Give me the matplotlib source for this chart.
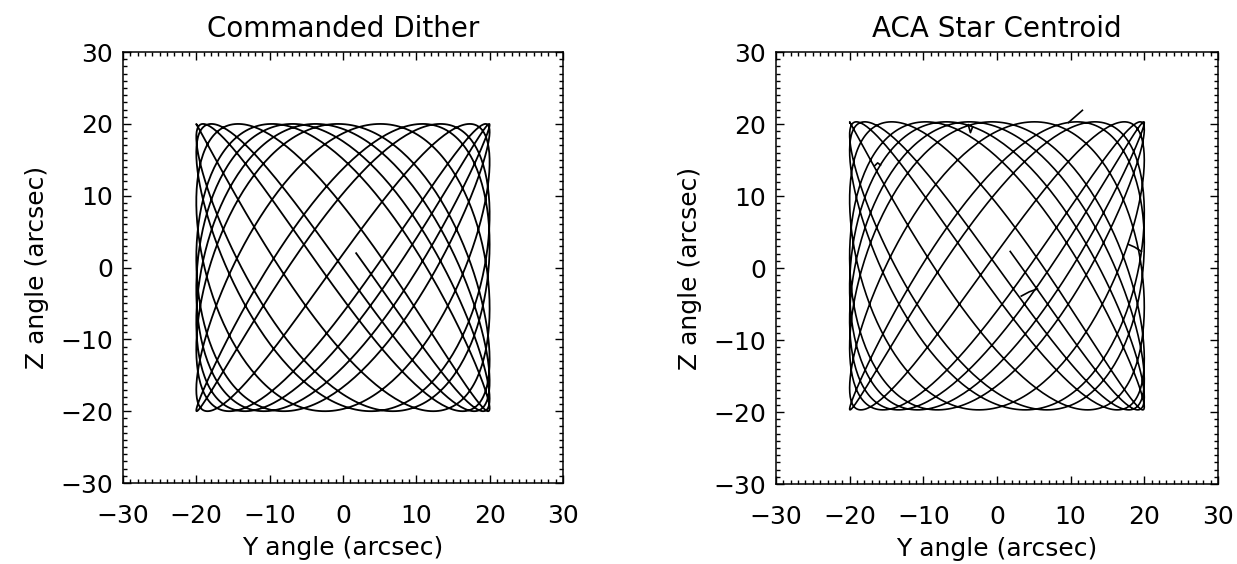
import numpy as np
import matplotlib.pyplot as plt
from matplotlib.ticker import MultipleLocator

# commanded dither (HRC pattern), arcsec and seconds
amp_y = 20.0
amp_z = 20.0
period_y = 1087.0
period_z = 768.6
start_y = 1.8      # free end of the track near the centre
start_z = 2.0
duration = 10600.0
step = 4.0

# ACA centroid: small shift of the whole track and a few glitches
centroid_shift_y = 0.0
centroid_shift_z = 0.3
glitch_1_y = [9.7, 10.6, 11.6]
glitch_1_z = [20.2, 21.0, 21.9]
glitch_2_y = [3.3, 4.4, 5.5]
glitch_2_z = [-3.9, -3.3, -2.9]
glitch_3_y = [17.8, 18.7, 19.6]
glitch_3_z = [3.3, 2.9, 2.3]
glitch_4_y = [-3.9, -3.6, -3.3]
glitch_4_z = [19.9, 18.8, 19.6]
glitch_5_y = [-16.6, -16.2, -15.8]
glitch_5_z = [14.2, 14.6, 14.3]

ticks = [-30, -20, -10, 0, 10, 20, 30]

# build the track from the dither definition
t = np.arange(0, duration, step)
phase_y = np.arcsin(start_y / amp_y)
phase_z = np.pi - np.arcsin(start_z / amp_z)
dither_y = amp_y * np.sin(2 * np.pi * t / period_y + phase_y)
dither_z = amp_z * np.sin(2 * np.pi * t / period_z + phase_z)

fig = plt.figure(figsize=(12.37, 5.64), dpi=100)
ax1 = fig.add_axes([0.0994, 0.1436, 0.3557, 0.764])
ax2 = fig.add_axes([0.6273, 0.1418, 0.3573, 0.766])

ax1.plot(dither_y, dither_z, color="black", lw=1.3)
ax1.set_title("Commanded Dither", fontsize=20, pad=11)

ax2.plot(dither_y + centroid_shift_y, dither_z + centroid_shift_z, color="black", lw=1.2)
for gy, gz in [(glitch_1_y, glitch_1_z), (glitch_2_y, glitch_2_z),
               (glitch_3_y, glitch_3_z), (glitch_4_y, glitch_4_z),
               (glitch_5_y, glitch_5_z)]:
    ax2.plot(gy, gz, color="black", lw=1.2)
ax2.set_title("ACA Star Centroid", fontsize=20, pad=11)

for ax in (ax1, ax2):
    ax.set_xlim(-30, 30)
    ax.set_ylim(-30, 30)
    ax.set_xticks(ticks)
    ax.set_yticks(ticks)
    ax.set_xticklabels([str(v).replace("-", "\u2212") for v in ticks])
    ax.set_yticklabels([str(v).replace("-", "\u2212") for v in ticks])
    ax.xaxis.set_minor_locator(MultipleLocator(1))
    ax.yaxis.set_minor_locator(MultipleLocator(1))
    ax.tick_params(which="both", direction="in", top=True, right=True, width=1.0)
    ax.tick_params(which="major", length=6, labelsize=18)
    ax.tick_params(axis="x", which="major", pad=15)
    ax.tick_params(axis="y", which="major", pad=7)
    ax.tick_params(which="minor", length=3)
    for s in ax.spines.values():
        s.set_linewidth(1.1)
    ax.set_xlabel("Y angle (arcsec)", fontsize=18, labelpad=6)
    ax.set_ylabel("Z angle (arcsec)", fontsize=18, labelpad=8)

plt.savefig("out.png", dpi=100)
